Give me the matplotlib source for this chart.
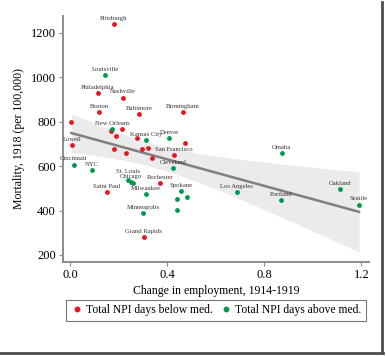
import numpy as np
import matplotlib
matplotlib.use('Agg')
import matplotlib.pyplot as plt
from matplotlib.lines import Line2D

plt.rcParams['font.family'] = ['Liberation Serif', 'DejaVu Serif']

# city data: change in employment 1914-1919, mortality 1918 per 100k, NPI group
cities = ['Pittsburgh', 'Louisville', 'Philadelphia', 'Nashville', 'Boston',
          'Baltimore', 'Birmingham', '', 'New Orleans', '', '', '', '',
          'Kansas City', 'Denver', '', 'Lowell', '', '', '', '', '',
          'San Francisco', 'Cleveland', 'Cincinnati', 'NYC', 'St. Louis',
          'Chicago', '', 'Rochester', 'Saint Paul', 'Milwaukee', 'Spokane',
          '', '', '', 'Minneapolis', 'Grand Rapids', 'Los Angeles',
          'Portland', 'Oakland', 'Seattle', 'Omaha']
emp_change = [0.181, 0.145, 0.114, 0.219, 0.119, 0.285, 0.464, 0.006, 0.175,
              0.213, 0.169, 0.190, 0.274, 0.312, 0.409, 0.475, 0.009, 0.181,
              0.232, 0.298, 0.320, 0.336, 0.427, 0.425, 0.015, 0.089, 0.240,
              0.250, 0.260, 0.370, 0.152, 0.311, 0.456, 0.480, 0.440, 0.442,
              0.301, 0.303, 0.687, 0.868, 1.110, 1.190, 0.871]
mortality = [1240, 1012, 931, 909, 844, 835, 843, 798, 769, 768, 759, 737,
             727, 718, 728, 704, 695, 679, 660, 677, 681, 637, 648, 591, 607,
             582, 538, 530, 522, 524, 482, 475, 488, 460, 451, 403, 388, 282,
             484, 448, 496, 427, 661]
# 1 = total NPI days above median
npi_above = [0, 1, 0, 0, 0, 0, 0, 0, 1, 0, 0, 0, 0, 1, 1, 0, 0, 0, 0, 0, 0,
             0, 0, 1, 1, 1, 1, 1, 1, 0, 0, 1, 1, 1, 1, 1, 1, 0, 1, 1, 1, 1, 1]

RED = '#e3171d'
GREEN = '#00984a'

x = np.array(emp_change)
y = np.array(mortality, dtype=float)
grp = np.array(npi_above)

fig = plt.figure(figsize=(3.86, 3.56), dpi=100)
ax = fig.add_axes([0.163, 0.264, 0.793, 0.691])

# linear fit with 95% CI
b1, b0 = np.polyfit(x, y, 1)
n = len(x)
resid = y - (b0 + b1 * x)
s = np.sqrt(np.sum(resid ** 2) / (n - 2))
xs = np.linspace(x.min(), x.max(), 100)
se = s * np.sqrt(1 / n + (xs - x.mean()) ** 2 / np.sum((x - x.mean()) ** 2))
fit = b0 + b1 * xs
ax.fill_between(xs, fit - 2.02 * se, fit + 2.02 * se, color='#ebebeb', lw=0, zorder=1)
ax.plot(xs, fit, color='#808080', lw=1.8, zorder=2)

for g, c in [(0, RED), (1, GREEN)]:
    m = grp == g
    ax.scatter(x[m], y[m], s=12, color=c, lw=0, zorder=3)

for name, xi, yi in zip(cities, x, y):
    if name:
        dy = 4.0 if name == 'St. Louis' else 2.2
        ax.annotate(name, (xi, yi), xytext=(0, dy), textcoords='offset points',
                    ha='center', va='bottom', fontsize=4.8, color='#333333', zorder=4)

ax.set_xlim(-0.029, 1.231)
ax.set_ylim(168, 1276)
ax.set_xticks([0.0, 0.4, 0.8, 1.2])
ax.set_xticklabels(['0.0', '0.4', '0.8', '1.2'])
ax.set_yticks([200, 400, 600, 800, 1000, 1200])
for sp in ['top', 'right']:
    ax.spines[sp].set_visible(False)
for sp in ['left', 'bottom']:
    ax.spines[sp].set_color('#8c8c8c')
    ax.spines[sp].set_linewidth(1.4)
ax.tick_params(length=3, width=0.8, color='#8c8c8c', labelsize=9, pad=2)
ax.set_xlabel('Change in employment, 1914-1919', fontsize=8.5, labelpad=3)
ax.set_ylabel('Mortality, 1918 (per 100,000)', fontsize=8.5, labelpad=4)

handles = [Line2D([], [], marker='o', ls='', color=RED, markersize=3.2),
           Line2D([], [], marker='o', ls='', color=GREEN, markersize=3.2)]
leg = fig.legend(handles, ['Total NPI days below med.', 'Total NPI days above med.'],
                 loc='center', bbox_to_anchor=(0.56, 0.128), ncol=2, fontsize=8.4,
                 frameon=True, fancybox=False, handletextpad=0.3, columnspacing=0.6,
                 handlelength=1.0, borderpad=0.4)
leg.get_frame().set_edgecolor('#555555')
leg.get_frame().set_linewidth(0.8)

# screenshot frame shadow
fig.add_artist(Line2D([381.5 / 386, 381.5 / 386], [1 - 2 / 356, 1 - 353 / 356],
                      transform=fig.transFigure, color='#4d4d4d', lw=2.0))
fig.add_artist(Line2D([0, 383 / 386], [1 - 352.5 / 356, 1 - 352.5 / 356],
                      transform=fig.transFigure, color='#4d4d4d', lw=2.0))

fig.savefig('out.png', dpi=100)
